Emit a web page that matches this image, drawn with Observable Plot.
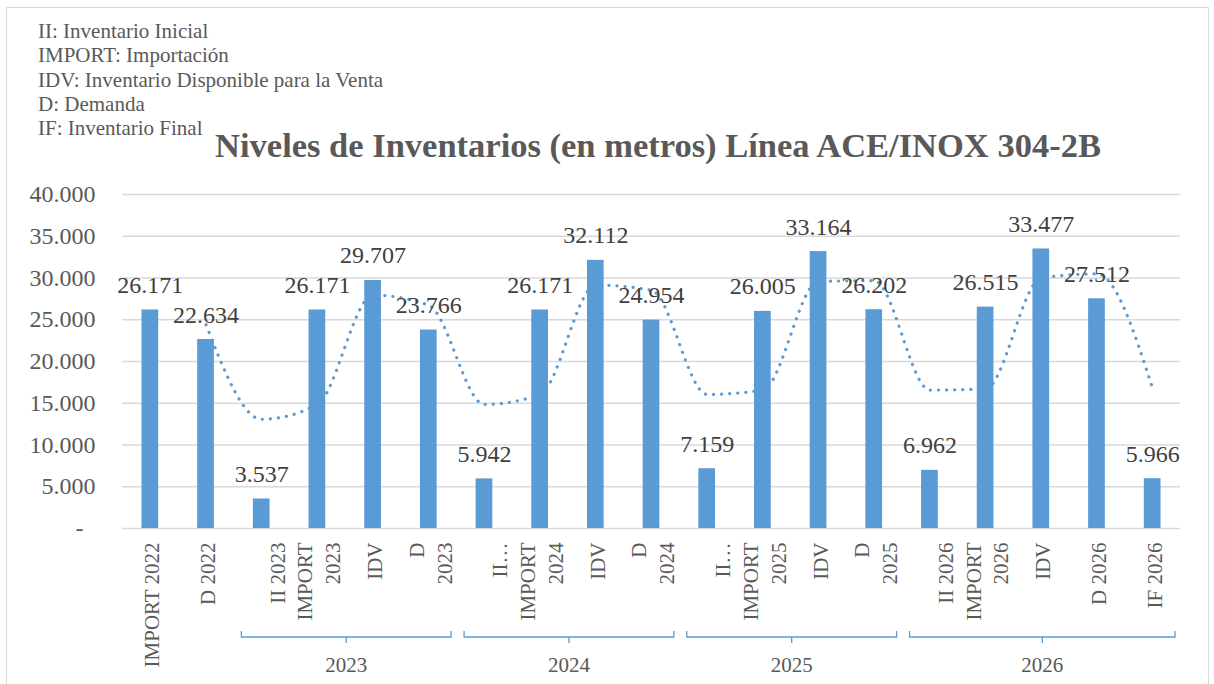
<!DOCTYPE html>
<html>
<head>
<meta charset="utf-8">
<script src="https://cdn.jsdelivr.net/npm/d3@7"></script>
<script src="https://cdn.jsdelivr.net/npm/@observablehq/plot@0.6"></script>
<style>
  html, body { margin: 0; padding: 0; background: #fff; }
  #wrap { position: relative; width: 1214px; height: 684px; overflow: hidden; font-family: "Liberation Serif", "Times New Roman", serif; }
  #frame { position: absolute; left: 6px; top: 7px; width: 1203px; height: 700px; border: 1px solid #d9d9d9; box-sizing: border-box; }
  #legend { position: absolute; left: 38px; top: 19px; font-size: 21px; line-height: 24.3px; color: #595959; white-space: pre; }
  #title { position: absolute; left: 0; width: 1316px; top: 128px; text-align: center; font-size: 34.5px; line-height: 1; font-weight: bold; color: #595959; white-space: nowrap; }
  #chart { position: absolute; left: 0; top: 175px; }
</style>
</head>
<body>
<div id="wrap">
  <div id="frame"></div>
  <div id="legend"></div>
  <div id="title"></div>
  <div id="chart"></div>
</div>
<script>
// ---- data ----
const legendLines = [
  "II: Inventario Inicial",
  "IMPORT: Importación",
  "IDV: Inventario Disponible para la Venta",
  "D: Demanda",
  "IF: Inventario Final"
];
const titleText = "Niveles de Inventarios (en metros) Línea ACE/INOX 304-2B";
const categories = [
  "IMPORT 2022", "D 2022",
  "II 2023", "IMPORT 2023", "IDV 2023", "D 2023",
  "II 2024", "IMPORT 2024", "IDV 2024", "D 2024",
  "II 2025", "IMPORT 2025", "IDV 2025", "D 2025",
  "II 2026", "IMPORT 2026", "IDV 2026", "D 2026", "IF 2026"
];
const tickLabels = [
  "IMPORT 2022", "D 2022",
  "\nII 2023", "IMPORT\n2023", "IDV", "D\n2023",
  "\nII…", "IMPORT\n2024", "IDV", "D\n2024",
  "\nII…", "IMPORT\n2025", "IDV", "D\n2025",
  "\nII 2026", "IMPORT\n2026", "IDV", "D 2026", "IF 2026"
];
const values = [
  26171, 22634,
  3537, 26171, 29707, 23766,
  5942, 26171, 32112, 24954,
  7159, 26005, 33164, 26202,
  6962, 26515, 33477, 27512, 5966
];
const groups = ["2023", "2024", "2025", "2026"];
const groupFrom = ["II 2023", "II 2024", "II 2025", "II 2026"];
const groupTo = ["D 2023", "D 2024", "D 2025", "IF 2026"];
const yTicks = [0, 5000, 10000, 15000, 20000, 25000, 30000, 35000, 40000];

// ---- build ----
document.getElementById("legend").textContent = legendLines.join("\n");
document.getElementById("title").textContent = titleText;

const data = categories.map((c, i) => ({cat: c, value: values[i], label: tickLabels[i]}));
const loc = d3.formatLocale({decimal: ",", thousands: ".", grouping: [3], currency: ["", ""]});
const fmt = loc.format(",d");

const blue = "#5b9bd5";
const grey = "#595959";

function brackets(index, scales, vals, dims) {
  const x = scales.x;
  const step = x.step();
  const bw = x.bandwidth();
  const pad = (step - bw) / 2;
  const axisY = dims.height - dims.marginBottom;
  const yb = axisY + 109;
  const g = d3.create("svg:g");
  groups.forEach((yr, i) => {
    const left = x(groupFrom[i]) - pad + 8;
    const right = x(groupTo[i]) + bw + pad - 5;
    const mid = (left + right) / 2;
    g.append("path")
      .attr("d", `M${left},${yb - 6}V${yb}H${right}V${yb - 6}M${mid},${yb}V${yb + 6}`)
      .attr("fill", "none").attr("stroke", blue).attr("stroke-width", 1.3);
    g.append("text")
      .attr("x", mid).attr("y", axisY + 144)
      .attr("text-anchor", "middle")
      .attr("font-size", 21).attr("fill", grey)
      .text(yr);
  });
  return g.node();
}

const chart = Plot.plot({
  width: 1214,
  height: 509,
  marginLeft: 122,
  marginRight: 34,
  marginTop: 19,
  marginBottom: 156,
  style: {fontFamily: "'Liberation Serif', 'Times New Roman', serif", color: grey, background: "transparent", fontSize: "24px"},
  x: {domain: categories, paddingInner: 0.7, paddingOuter: 0.35, round: false, axis: null},
  y: {domain: [0, 40000], ticks: yTicks, tickSize: 0, tickPadding: 27, label: null,
      tickFormat: d => d === 0 ? "-\u00a0\u00a0" : fmt(d)},
  marks: [
    Plot.ruleY(yTicks, {stroke: "#d9d9d9", strokeWidth: 1.5}),
    Plot.barY(data, {x: "cat", y: "value", fill: blue}),
    Plot.line(data, Plot.windowY(
      {k: 2, anchor: "end", reduce: v => (v.length < 2 ? NaN : (v[0] + v[1]) / 2)},
      {x: "cat", y: "value", curve: "monotone-x", stroke: blue, strokeWidth: 3.2,
       strokeDasharray: "0.1 8", strokeLinecap: "round"})),
    Plot.text(data, {x: "cat", y: "value", text: d => fmt(d.value), lineAnchor: "bottom",
      dy: -17, fontSize: 24, fill: "#404040"}),
    Plot.text(data, {x: "cat", text: "label", frameAnchor: "bottom", rotate: -90,
      textAnchor: "end", lineAnchor: "middle", lineHeight: 1.33, dy: 14, fontSize: 21, fill: grey}),
    brackets
  ]
});
document.getElementById("chart").appendChild(chart);
</script>
</body>
</html>
